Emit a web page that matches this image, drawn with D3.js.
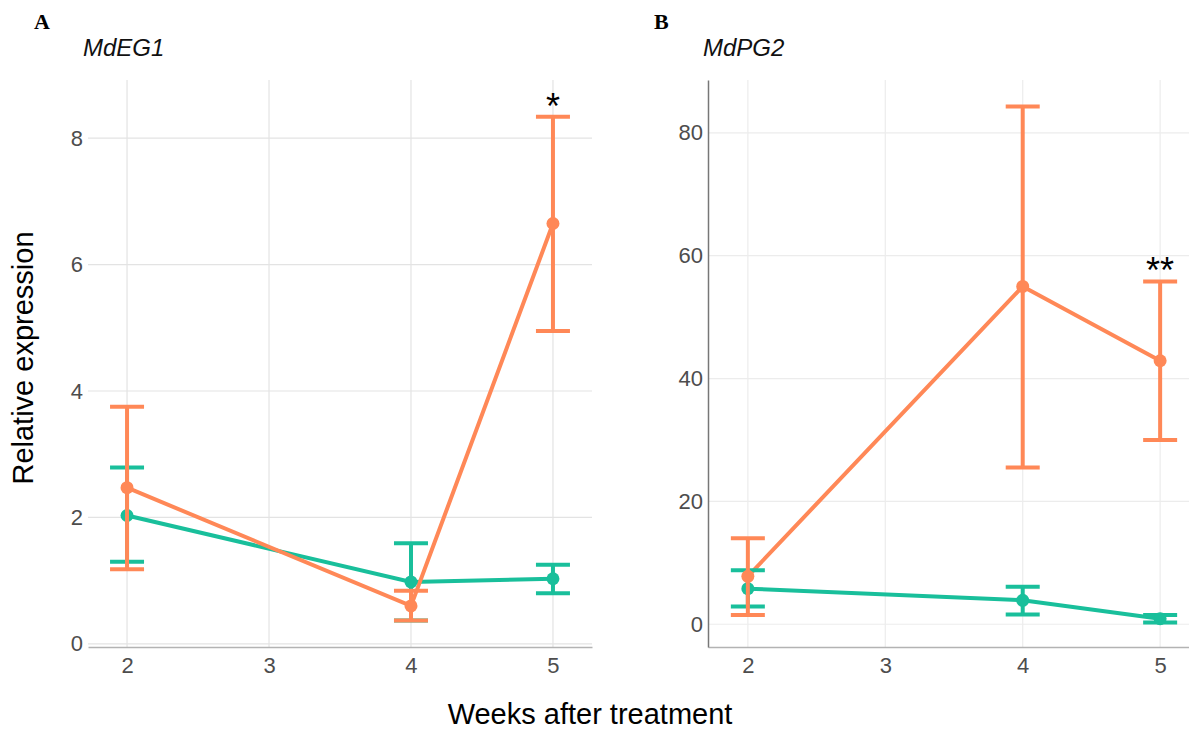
<!DOCTYPE html>
<html lang="en">
<head>
    <meta charset="UTF-8">
    <title>MdEG1 / MdPG2 expression</title>
    <style>
        body { margin: 0; background: #fff; overflow: hidden; }
        text { font-family: "Liberation Sans", Arial, sans-serif; }
    </style>
</head>
<body>
    <svg id="chart" width="1189" height="741"></svg>
    <script src="https://cdn.jsdelivr.net/npm/d3@7"></script>
    <script>
        // weeks after treatment (x) and tick labels
        const weeks = [2, 4, 5];
        const xTicks = [2, 3, 4, 5];

        // panel A, MdEG1
        const eg1Ticks = [0, 2, 4, 6, 8];
        const eg1GreenMean = [2.03, 0.98, 1.03];
        const eg1GreenLow = [1.30, 0.37, 0.80];
        const eg1GreenHigh = [2.79, 1.59, 1.25];
        const eg1OrangeMean = [2.47, 0.60, 6.65];
        const eg1OrangeLow = [1.18, 0.37, 4.95];
        const eg1OrangeHigh = [3.75, 0.84, 8.34];
        const eg1Stars = ["", "", "*"];

        // panel B, MdPG2
        const pg2Ticks = [0, 20, 40, 60, 80];
        const pg2GreenMean = [5.8, 3.9, 0.9];
        const pg2GreenLow = [2.9, 1.6, 0.3];
        const pg2GreenHigh = [8.8, 6.1, 1.5];
        const pg2OrangeMean = [7.8, 55.0, 42.9];
        const pg2OrangeLow = [1.5, 25.5, 30.0];
        const pg2OrangeHigh = [14.0, 84.3, 55.8];
        const pg2Stars = ["", "", "**"];

        const green = "#19bf9b";
        const orange = "#ff8857";

        function series(mean, low, high) {
            return weeks.map((w, i) => ({ x: w, y: mean[i], lo: low[i], hi: high[i] }));
        }

        const panels = [{
            letter: "A", gene: "MdEG1",
            left: 88, right: 592, top: 80, bottom: 647,
            xDomain: [1.725, 5.275], yDomain: [-0.05, 8.92],
            ticks: eg1Ticks, leftLine: false, grid: "#e3e3e3",
            data: [series(eg1GreenMean, eg1GreenLow, eg1GreenHigh), series(eg1OrangeMean, eg1OrangeLow, eg1OrangeHigh)],
            stars: eg1Stars, starAbove: eg1OrangeHigh
        }, {
            letter: "B", gene: "MdPG2",
            left: 708, right: 1189, top: 80, bottom: 647,
            xDomain: [1.71, 5.21], yDomain: [-3.7, 88.6],
            ticks: pg2Ticks, leftLine: true, grid: "#ececec",
            data: [series(pg2GreenMean, pg2GreenLow, pg2GreenHigh), series(pg2OrangeMean, pg2OrangeLow, pg2OrangeHigh)],
            stars: pg2Stars, starAbove: pg2OrangeHigh
        }];

        const svg = d3.select("#chart");
        const colors = [green, orange];
        const capW = 17;

        panels.forEach(p => {
            const x = d3.scaleLinear().domain(p.xDomain).range([p.left, p.right]);
            const y = d3.scaleLinear().domain(p.yDomain).range([p.bottom, p.top]);
            const g = svg.append("g");

            // grid
            g.selectAll(".hg").data(p.ticks).enter().append("line")
                .attr("x1", p.left).attr("x2", p.right)
                .attr("y1", d => y(d)).attr("y2", d => y(d))
                .attr("stroke", p.grid).attr("stroke-width", 1.2);
            g.selectAll(".vg").data(xTicks).enter().append("line")
                .attr("x1", d => x(d)).attr("x2", d => x(d))
                .attr("y1", p.top).attr("y2", p.bottom)
                .attr("stroke", p.grid).attr("stroke-width", 1.2);

            // axes
            const xAxis = g.append("g").attr("transform", "translate(0," + p.bottom + ")")
                .call(d3.axisBottom(x).tickValues(xTicks).tickSize(0).tickPadding(10).tickFormat(d3.format("d")));
            xAxis.select(".domain").attr("stroke", "#b3b3b3").attr("stroke-width", 1.5);
            const yAxis = g.append("g").attr("transform", "translate(" + p.left + ",0)")
                .call(d3.axisLeft(y).tickValues(p.ticks).tickSize(0).tickPadding(5));
            yAxis.select(".domain").attr("stroke", p.leftLine ? "#777" : "none").attr("stroke-width", 1.5);
            svg.selectAll(".tick text").attr("fill", "#4d4d4d").attr("font-size", 22)
                .attr("font-family", "'Liberation Sans', Arial, sans-serif");

            const line = d3.line().x(d => x(d.x)).y(d => y(d.y));

            p.data.forEach((s, k) => {
                g.append("path").datum(s).attr("d", line)
                    .attr("fill", "none").attr("stroke", colors[k]).attr("stroke-width", 4);
            });
            p.data.forEach((s, k) => {
                const eb = g.append("g").attr("stroke", colors[k]).attr("stroke-width", 4);
                eb.selectAll(".v").data(s).enter().append("line")
                    .attr("x1", d => x(d.x)).attr("x2", d => x(d.x))
                    .attr("y1", d => y(d.lo)).attr("y2", d => y(d.hi));
                eb.selectAll(".lo").data(s).enter().append("line")
                    .attr("x1", d => x(d.x) - capW).attr("x2", d => x(d.x) + capW)
                    .attr("y1", d => y(d.lo)).attr("y2", d => y(d.lo));
                eb.selectAll(".hi").data(s).enter().append("line")
                    .attr("x1", d => x(d.x) - capW).attr("x2", d => x(d.x) + capW)
                    .attr("y1", d => y(d.hi)).attr("y2", d => y(d.hi));
                g.selectAll(".pt" + k).data(s).enter().append("circle")
                    .attr("cx", d => x(d.x)).attr("cy", d => y(d.y)).attr("r", 6.5)
                    .attr("fill", colors[k]);
            });

            // significance stars
            g.selectAll(".star").data(weeks).enter().append("text")
                .attr("x", d => x(d)).attr("y", (d, i) => y(p.starAbove[i]) + 2)
                .attr("text-anchor", "middle").style("font-size", "36px")
                .text((d, i) => p.stars[i]);

            // panel letter and gene name
            svg.append("text").attr("x", p.left - 54).attr("y", 29)
                .style("font-family", "'Liberation Serif', 'Times New Roman', serif")
                .style("font-weight", "bold").style("font-size", "22px").text(p.letter);
            svg.append("text").attr("x", p.left - 5).attr("y", 56)
                .style("font-style", "italic").style("font-size", "24px").attr("fill", "#111").text(p.gene);
        });

        svg.append("text").attr("transform", "translate(33,358) rotate(-90)")
            .attr("text-anchor", "middle").style("font-size", "29px").text("Relative expression");
        svg.append("text").attr("x", 590).attr("y", 724)
            .attr("text-anchor", "middle").style("font-size", "29px").text("Weeks after treatment");
    </script>
</body>
</html>
